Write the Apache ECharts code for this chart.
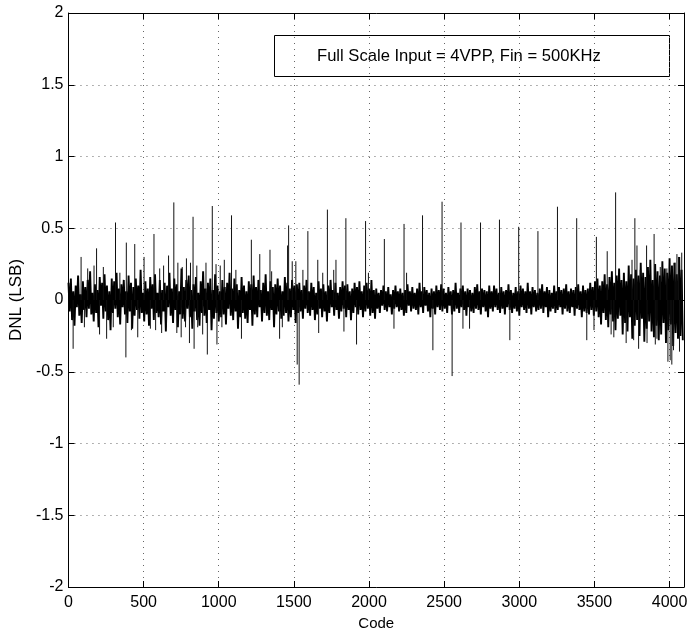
<!DOCTYPE html>
<html>
<head>
<meta charset="utf-8">
<title>DNL</title>
<script src="https://cdn.jsdelivr.net/npm/echarts@6/dist/echarts.min.js"></script>
<style>
  html, body { margin: 0; padding: 0; background: #fff; }
  #chart { width: 691px; height: 637px; }
</style>
</head>
<body>
<div id="chart"></div>
<script>
// x axis ticks / y axis ticks
const xTicks = [0, 500, 1000, 1500, 2000, 2500, 3000, 3500, 4000];
const yTicks = [-2, -1.5, -1, -0.5, 0, 0.5, 1, 1.5, 2];
const codeMax = 4096;

// DNL, one value every 8 codes (0, 8, 16, ... 4088)
const noiseStep = 8;
const noiseDnl = [
  0.12,-0.08,0.15,-0.14,0.06,-0.18,0.10,-0.05,
  0.17,-0.11,0.04,-0.16,0.13,-0.07,0.09,-0.12,
  0.14,-0.06,0.20,-0.10,0.05,-0.15,0.11,-0.09,
  0.07,-0.19,0.16,-0.04,0.12,-0.13,0.18,-0.08,
  0.10,-0.14,0.06,-0.21,0.15,-0.09,0.13,-0.06,
  0.19,-0.12,0.08,-0.17,0.11,-0.05,0.14,-0.10,
  0.06,-0.16,0.17,-0.08,0.12,-0.20,0.09,-0.11,
  0.15,-0.07,0.10,-0.13,0.21,-0.09,0.05,-0.15,
  0.13,-0.10,0.08,-0.18,0.16,-0.06,0.11,-0.14,
  0.18,-0.09,0.05,-0.12,0.14,-0.17,0.07,-0.08,
  0.12,-0.22,0.10,-0.05,0.19,-0.11,0.08,-0.16,
  0.15,-0.07,0.11,-0.19,0.06,-0.10,0.22,-0.13,
  0.09,-0.15,0.14,-0.06,0.17,-0.12,0.07,-0.20,
  0.11,-0.08,0.16,-0.14,0.05,-0.18,0.13,-0.09,
  0.20,-0.11,0.08,-0.16,0.12,-0.07,0.15,-0.21,
  0.07,-0.13,0.18,-0.09,0.10,-0.15,0.06,-0.12,
  0.14,-0.10,0.09,-0.17,0.12,-0.06,0.19,-0.11,
  0.08,-0.14,0.15,-0.08,0.11,-0.20,0.07,-0.12,
  0.16,-0.09,0.10,-0.13,0.06,-0.16,0.13,-0.07,
  0.11,-0.18,0.17,-0.10,0.09,-0.12,0.14,-0.05,
  0.07,-0.15,0.12,-0.09,0.18,-0.11,0.06,-0.14,
  0.13,-0.07,0.09,-0.19,0.11,-0.10,0.15,-0.08,
  0.10,-0.13,0.06,-0.11,0.16,-0.09,0.12,-0.15,
  0.08,-0.12,0.14,-0.07,0.10,-0.16,0.11,-0.09,
  0.12,-0.08,0.07,-0.13,0.10,-0.06,0.14,-0.09,
  0.06,-0.11,0.12,-0.07,0.09,-0.14,0.05,-0.10,
  0.13,-0.06,0.08,-0.12,0.11,-0.08,0.06,-0.15,
  0.10,-0.09,0.14,-0.05,0.07,-0.11,0.12,-0.07,
  0.05,-0.13,0.09,-0.08,0.13,-0.06,0.10,-0.12,
  0.11,-0.07,0.06,-0.14,0.08,-0.09,0.12,-0.05,
  0.09,-0.10,0.13,-0.07,0.06,-0.12,0.10,-0.08,
  0.12,-0.06,0.08,-0.11,0.14,-0.09,0.07,-0.13,
  0.08,-0.06,0.05,-0.09,0.07,-0.04,0.10,-0.07,
  0.06,-0.08,0.09,-0.05,0.04,-0.10,0.07,-0.06,
  0.10,-0.05,0.06,-0.08,0.08,-0.07,0.05,-0.11,
  0.07,-0.09,0.11,-0.04,0.06,-0.08,0.09,-0.06,
  0.05,-0.07,0.08,-0.10,0.12,-0.05,0.06,-0.09,
  0.09,-0.04,0.07,-0.08,0.05,-0.12,0.08,-0.06,
  0.06,-0.10,0.10,-0.05,0.07,-0.07,0.11,-0.08,
  0.08,-0.06,0.05,-0.09,0.09,-0.04,0.06,-0.10,
  0.07,-0.08,0.12,-0.06,0.05,-0.09,0.08,-0.05,
  0.10,-0.07,0.06,-0.11,0.08,-0.05,0.07,-0.08,
  0.05,-0.09,0.09,-0.06,0.11,-0.07,0.06,-0.10,
  0.08,-0.05,0.07,-0.08,0.06,-0.12,0.10,-0.06,
  0.06,-0.08,0.10,-0.05,0.08,-0.07,0.05,-0.09,
  0.09,-0.06,0.06,-0.10,0.07,-0.05,0.11,-0.07,
  0.07,-0.09,0.05,-0.06,0.09,-0.08,0.06,-0.11,
  0.10,-0.05,0.08,-0.07,0.06,-0.09,0.12,-0.06,
  0.06,-0.10,0.09,-0.05,0.07,-0.08,0.05,-0.07,
  0.08,-0.06,0.11,-0.09,0.06,-0.05,0.09,-0.12,
  0.07,-0.08,0.05,-0.06,0.10,-0.09,0.06,-0.07,
  0.09,-0.05,0.07,-0.10,0.08,-0.06,0.11,-0.08,
  0.06,-0.09,0.08,-0.05,0.07,-0.11,0.09,-0.06,
  0.11,-0.07,0.06,-0.12,0.10,-0.08,0.07,-0.09,
  0.08,-0.10,0.12,-0.07,0.09,-0.11,0.13,-0.08,
  0.15,-0.12,0.10,-0.17,0.13,-0.09,0.18,-0.14,
  0.11,-0.19,0.16,-0.10,0.20,-0.15,0.12,-0.21,
  0.17,-0.13,0.22,-0.11,0.14,-0.24,0.19,-0.16,
  0.13,-0.22,0.24,-0.12,0.18,-0.27,0.15,-0.18,
  0.21,-0.14,0.17,-0.25,0.26,-0.13,0.19,-0.29,
  0.16,-0.20,0.23,-0.15,0.28,-0.22,0.14,-0.26,
  0.25,-0.18,0.20,-0.28,0.17,-0.24,0.27,-0.16,
  0.22,-0.30,0.19,-0.21,0.29,-0.17,0.24,-0.32,
  0.26,-0.23,0.18,-0.27,0.30,-0.25,0.21,-0.28
];

// isolated large spikes (code, DNL)
const spikeCodes = [
  84, 187, 313, 385, 441, 569, 666, 701, 785, 829, 957, 982, 1037, 1085,
  1217, 1273, 1341, 1458, 1465, 1513, 1593, 1659, 1723, 1780, 1846, 1977,
  2102, 2233, 2356, 2486, 2612, 2742, 2868, 2996, 3124, 3254, 3382, 3513,
  3585, 3641, 3769, 3783, 3847, 3897, 4049, 4081,
  31, 207, 254, 382, 461, 750, 805, 836, 924, 988, 1151, 1405, 1522, 1535,
  1665, 1833, 1917, 2166, 2425, 2553, 2625, 2937, 3449, 3629, 3711, 3794,
  3905, 3989, 4015, 4066
];
const spikeDnl = [
  0.30, 0.36, 0.54, 0.40, 0.39, 0.46, 0.31, 0.68, 0.29, 0.58, 0.655, 0.25, 0.28, 0.59,
  0.42, 0.32, 0.35, 0.38, 0.52, 0.27, 0.48, 0.28, 0.63, 0.28, 0.57, 0.55,
  0.425, 0.53, 0.59, 0.685, 0.54, 0.54, 0.56, 0.51, 0.48, 0.65, 0.57, 0.44,
  0.34, 0.75, 0.57, 0.38, 0.38, 0.46, 0.32, 0.33,
  -0.34, -0.24, -0.27, -0.40, -0.26, -0.26, -0.30, -0.34, -0.38, -0.31, -0.27, -0.27, -0.45, -0.59,
  -0.23, -0.22, -0.31, -0.20, -0.35, -0.53, -0.20, -0.28, -0.28, -0.26, -0.30, -0.34,
  -0.31, -0.43, -0.45, -0.36
];

// smaller spikes sticking out of the band
const minorCodes = [
  128, 170, 232, 342, 503, 607, 633, 728, 757, 812, 854, 915, 1010, 1114,
  1352, 1489, 1560, 1692, 1765, 1996, 2250, 3750, 3805, 3938, 3982, 4037, 4059,
  106, 298, 419, 545, 580, 620, 651, 721, 779, 860, 893, 1021, 1423,
  2669, 3497, 3611, 3761, 3850, 3916, 4004, 4026
];
const minorDnl = [
  0.22, 0.24, 0.23, 0.19, 0.30, 0.22, 0.24, 0.26, 0.23, 0.26, 0.24, 0.26, 0.24, 0.21,
  0.20, 0.27, 0.21, 0.19, 0.21, 0.19, 0.19, 0.28, 0.21, 0.23, 0.22, 0.26, 0.30,
  -0.19, -0.19, -0.21, -0.20, -0.21, -0.23, -0.19, -0.23, -0.19, -0.19, -0.24, -0.19, -0.19,
  -0.20, -0.21, -0.24, -0.28, -0.30, -0.27, -0.42, -0.35
];

const legendText = 'Full Scale Input = 4VPP, Fin = 500KHz';

const noisePoints = noiseDnl.map((v, i) => [i * noiseStep, v]);
// each spike drawn as a stroke from the band centre to its value
const spikePoints = [];
spikeCodes.forEach((c, i) => {
  spikePoints.push([c, 0], [c, spikeDnl[i]], null);
});
minorCodes.forEach((c, i) => {
  spikePoints.push([c, 0], [c, minorDnl[i]], null);
});

const FONT = '"Liberation Sans", Arial, Helvetica, sans-serif';

const chart = echarts.init(document.getElementById('chart'), null, {renderer: 'canvas'});

const axisLine = {show: true, onZero: false, lineStyle: {color: '#000', width: 1}};
const axisTick = {show: true, inside: true, length: 6, lineStyle: {color: '#000', width: 1}};
const dotted = {show: true, lineStyle: {color: '#666', width: 1, type: [1, 5]}};

chart.setOption({
  animation: false,
  backgroundColor: '#fff',
  grid: {left: 65, right: 7, top: 13, bottom: 50, show: false},
  xAxis: [{
    type: 'value',
    min: 0,
    max: codeMax,
    interval: 500,
    name: 'Code',
    nameLocation: 'middle',
    nameGap: 29,
    nameTextStyle: {color: '#000', fontSize: 15, fontFamily: FONT},
    axisLine: axisLine,
    axisTick: axisTick,
    splitLine: dotted,
    axisLabel: {
      color: '#000', fontSize: 16, fontFamily: FONT, margin: 8,
      formatter: v => (xTicks.indexOf(v) >= 0 ? String(v) : '')
    }
  }, {
    type: 'value',
    position: 'top',
    min: 0,
    max: codeMax,
    interval: 500,
    axisLine: axisLine,
    axisTick: axisTick,
    splitLine: {show: false},
    axisLabel: {show: false}
  }],
  yAxis: [{
    type: 'value',
    min: -2,
    max: 2,
    interval: 0.5,
    name: 'DNL (LSB)',
    nameLocation: 'middle',
    nameGap: 42,
    nameRotate: 90,
    nameTextStyle: {color: '#000', fontSize: 17, fontFamily: FONT},
    axisLine: axisLine,
    axisTick: axisTick,
    splitLine: dotted,
    axisLabel: {
      color: '#000', fontSize: 16, fontFamily: FONT, margin: 5,
      formatter: v => (yTicks.indexOf(v) >= 0 ? String(v) : '')
    }
  }, {
    type: 'value',
    position: 'right',
    min: -2,
    max: 2,
    interval: 0.5,
    axisLine: axisLine,
    axisTick: axisTick,
    splitLine: {show: false},
    axisLabel: {show: false}
  }],
  series: [{
    type: 'line',
    xAxisIndex: 0,
    yAxisIndex: 0,
    data: noisePoints,
    showSymbol: false,
    symbol: 'none',
    sampling: null,
    lineStyle: {color: '#000', width: 1.9},
    z: 3
  }, {
    type: 'line',
    xAxisIndex: 0,
    yAxisIndex: 0,
    data: spikePoints,
    connectNulls: false,
    showSymbol: false,
    symbol: 'none',
    lineStyle: {color: '#111', width: 1},
    z: 4
  }],
  graphic: [{
    type: 'group',
    z: 100,
    children: [{
      type: 'rect',
      shape: {x: 274.5, y: 35.5, width: 395, height: 41},
      style: {fill: '#fff', stroke: '#000', lineWidth: 1}
    }, {
      type: 'text',
      x: 317,
      y: 56,
      style: {
        text: legendText,
        fill: '#000',
        font: '16.6px ' + FONT,
        verticalAlign: 'middle',
        align: 'left'
      }
    }]
  }]
});

window.addEventListener('resize', () => chart.resize());
</script>
</body>
</html>
